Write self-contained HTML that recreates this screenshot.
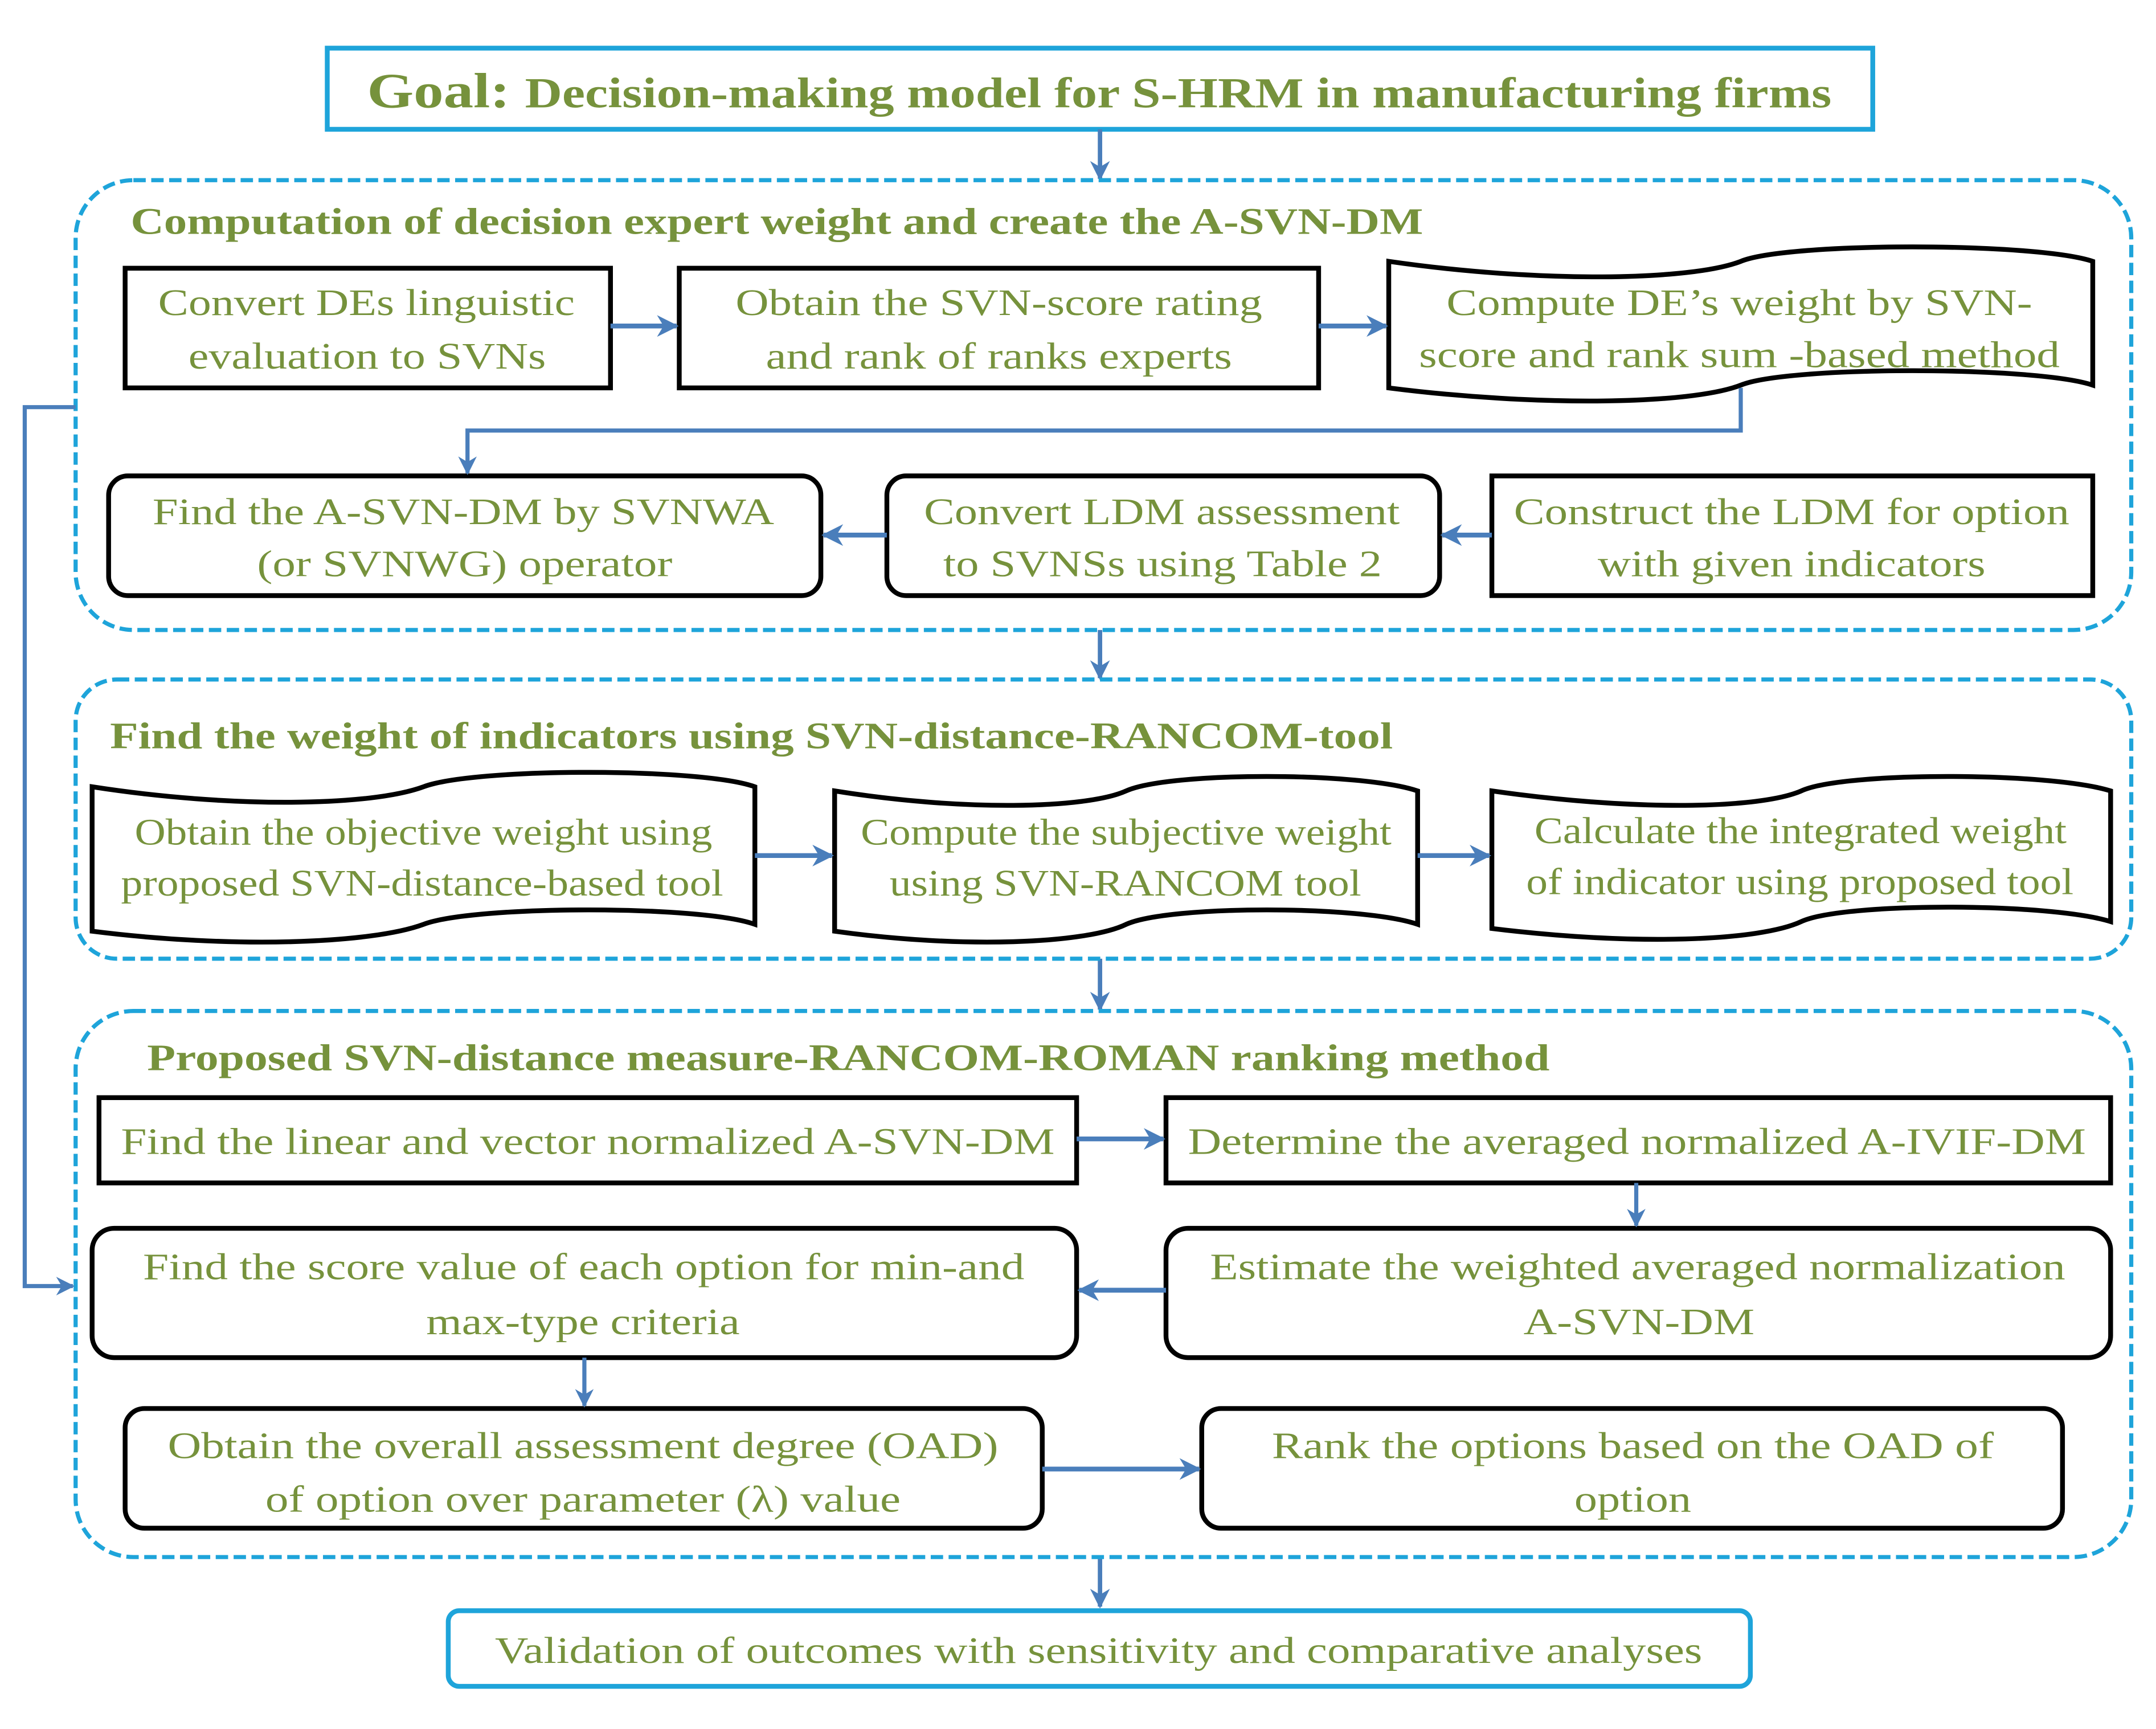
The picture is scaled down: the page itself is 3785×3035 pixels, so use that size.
<!DOCTYPE html>
<html><head><meta charset="utf-8"><style>
html,body{margin:0;padding:0;background:#fff;}
svg{display:block;}
text{font-family:"Liberation Serif","Times New Roman",serif;fill:#76923c;}
.t{font-size:27px;}
.b{font-size:27px;font-weight:bold;}
</style></head><body>
<svg width="3785" height="3035" viewBox="0 0 1568 1257" preserveAspectRatio="none" xmlns="http://www.w3.org/2000/svg">
<defs>
<marker id="ar" viewBox="0 0 10 10" refX="9" refY="5" markerWidth="4.5" markerHeight="4.5" orient="auto" markerUnits="strokeWidth"><path d="M0,0 L10,5 L0,10 L3,5 Z" fill="#4a7ebb"/></marker>
</defs>
<rect width="1568" height="1257" fill="#fff"/>
<rect x="238" y="35" width="1124" height="59" fill="#fff" stroke="#1ea4da" stroke-width="3.5"/>
<text x="267" y="78" font-size="36" font-weight="bold" textLength="1065" lengthAdjust="spacingAndGlyphs">Goal: <tspan font-size="31">Decision-making model for S-HRM in manufacturing firms</tspan></text>
<g stroke="#4a7ebb" stroke-width="3.2" fill="none" marker-end="url(#ar)">
<line x1="800" y1="94" x2="800" y2="130"/>
<line x1="800" y1="458" x2="800" y2="493"/>
<line x1="800" y1="697" x2="800" y2="734"/>
<line x1="800" y1="1132" x2="800" y2="1168"/>
</g>
<g fill="none" stroke="#1ea4da" stroke-width="3" stroke-dasharray="9,4">
<rect x="55" y="131" width="1495" height="327" rx="42"/>
<rect x="55" y="494" width="1495" height="203" rx="30"/>
<rect x="55" y="735" width="1495" height="397" rx="42"/>
</g>
<text class="b" x="95" y="170" textLength="940" lengthAdjust="spacingAndGlyphs">Computation of decision expert weight and create the A-SVN-DM</text>
<text class="b" x="80" y="544" textLength="933" lengthAdjust="spacingAndGlyphs">Find the weight of indicators using SVN-distance-RANCOM-tool</text>
<text class="b" x="107" y="778" textLength="1020" lengthAdjust="spacingAndGlyphs">Proposed SVN-distance measure-RANCOM-ROMAN  ranking method</text>
<g fill="#fff" stroke="#000" stroke-width="3.5">
<rect x="91" y="195" width="353" height="87"/>
<rect x="494" y="195" width="465" height="87"/>
<path d="M1010,190 C1120,206 1230,204 1266,190 C1300,176 1480,176 1522,190 L1522,280 C1480,266 1300,266 1266,280 C1230,294 1120,296 1010,282 Z"/>
<rect x="79" y="346" width="518" height="87" rx="14"/>
<rect x="645" y="346" width="402" height="87" rx="14"/>
<rect x="1085" y="346" width="437" height="87"/>
<path d="M67,572 C170,588 270,586 308,572 C345,558 510,558 549,572 L549,672 C510,658 345,658 308,672 C270,686 170,690 67,677 Z"/>
<path d="M607,575 C700,590 790,588 819,575 C850,561 990,561 1031,575 L1031,672 C990,658 850,658 819,672 C790,686 700,690 607,677 Z"/>
<path d="M1085,575 C1190,590 1280,588 1310,575 C1340,561 1490,561 1535,575 L1535,670 C1490,656 1340,656 1310,670 C1280,684 1190,688 1085,675 Z"/>
<rect x="72" y="798" width="711" height="62"/>
<rect x="848" y="798" width="687" height="62"/>
<rect x="67" y="893" width="716" height="94" rx="16"/>
<rect x="848" y="893" width="687" height="94" rx="16"/>
<rect x="91" y="1024" width="667" height="87" rx="14"/>
<rect x="874" y="1024" width="626" height="87" rx="14"/>
</g>
<rect x="326" y="1171" width="947" height="55" rx="8" fill="#fff" stroke="#1ea4da" stroke-width="3.5"/>
<g stroke="#4a7ebb" stroke-width="3.5" fill="none" marker-end="url(#ar)">
<line x1="444" y1="237" x2="492" y2="237"/>
<line x1="959" y1="237" x2="1008" y2="237"/>
<line x1="1085" y1="389" x2="1049" y2="389"/>
<line x1="645" y1="389" x2="599" y2="389"/>
<line x1="549" y1="622" x2="605" y2="622"/>
<line x1="1031" y1="622" x2="1083" y2="622"/>
<line x1="783" y1="828" x2="846" y2="828"/>
<line x1="848" y1="938" x2="785" y2="938"/>
<line x1="758" y1="1068" x2="872" y2="1068"/>
</g>
<g stroke="#4a7ebb" stroke-width="3" fill="none" marker-end="url(#ar)">
<polyline points="1266,282 1266,313 340,313 340,344"/>
<line x1="1190" y1="860" x2="1190" y2="891"/>
<line x1="425" y1="987" x2="425" y2="1022"/>
<polyline points="55,296 18,296 18,935 53,935"/>
</g>
<g class="t">
<text class="t" x="115" y="229" textLength="303" lengthAdjust="spacingAndGlyphs">Convert DEs linguistic</text>
<text class="t" x="137" y="268" textLength="260" lengthAdjust="spacingAndGlyphs">evaluation to SVNs</text>
<text class="t" x="535" y="229" textLength="383" lengthAdjust="spacingAndGlyphs">Obtain the SVN-score rating</text>
<text class="t" x="557" y="268" textLength="339" lengthAdjust="spacingAndGlyphs">and rank of ranks experts</text>
<text class="t" x="1052" y="229" textLength="426" lengthAdjust="spacingAndGlyphs">Compute DE’s weight by SVN-</text>
<text class="t" x="1032" y="267" textLength="466" lengthAdjust="spacingAndGlyphs">score and rank sum -based method</text>
<text class="t" x="111" y="381" textLength="452" lengthAdjust="spacingAndGlyphs">Find the A-SVN-DM by SVNWA</text>
<text class="t" x="187" y="419" textLength="302" lengthAdjust="spacingAndGlyphs">(or SVNWG) operator</text>
<text class="t" x="672" y="381" textLength="346" lengthAdjust="spacingAndGlyphs">Convert LDM assessment</text>
<text class="t" x="686" y="419" textLength="319" lengthAdjust="spacingAndGlyphs">to SVNSs using Table 2</text>
<text class="t" x="1101" y="381" textLength="404" lengthAdjust="spacingAndGlyphs">Construct the LDM for option</text>
<text class="t" x="1162" y="419" textLength="282" lengthAdjust="spacingAndGlyphs">with given indicators</text>
<text class="t" x="98" y="614" textLength="420" lengthAdjust="spacingAndGlyphs">Obtain the objective weight using</text>
<text class="t" x="88" y="651" textLength="438" lengthAdjust="spacingAndGlyphs">proposed SVN-distance-based tool</text>
<text class="t" x="626" y="614" textLength="386" lengthAdjust="spacingAndGlyphs">Compute the subjective weight</text>
<text class="t" x="647" y="651" textLength="343" lengthAdjust="spacingAndGlyphs">using SVN-RANCOM tool</text>
<text class="t" x="1116" y="613" textLength="387" lengthAdjust="spacingAndGlyphs">Calculate the integrated weight</text>
<text class="t" x="1110" y="650" textLength="398" lengthAdjust="spacingAndGlyphs">of indicator using proposed tool</text>
<text class="t" x="88" y="839" textLength="679" lengthAdjust="spacingAndGlyphs">Find the linear and vector normalized A-SVN-DM</text>
<text class="t" x="864" y="839" textLength="653" lengthAdjust="spacingAndGlyphs">Determine the averaged normalized A-IVIF-DM</text>
<text class="t" x="104" y="930" textLength="641" lengthAdjust="spacingAndGlyphs">Find the score value of each option for min-and</text>
<text class="t" x="310" y="970" textLength="228" lengthAdjust="spacingAndGlyphs">max-type criteria</text>
<text class="t" x="880" y="930" textLength="622" lengthAdjust="spacingAndGlyphs">Estimate the weighted averaged normalization</text>
<text class="t" x="1108" y="970" textLength="168" lengthAdjust="spacingAndGlyphs">A-SVN-DM</text>
<text class="t" x="122" y="1060" textLength="604" lengthAdjust="spacingAndGlyphs">Obtain the overall assessment degree (OAD)</text>
<text class="t" x="193" y="1099" textLength="462" lengthAdjust="spacingAndGlyphs">of option over parameter (λ) value</text>
<text class="t" x="925" y="1060" textLength="525" lengthAdjust="spacingAndGlyphs">Rank the options based on the OAD of</text>
<text class="t" x="1145" y="1099" textLength="85" lengthAdjust="spacingAndGlyphs">option</text>
<text class="t" x="360" y="1209" textLength="878" lengthAdjust="spacingAndGlyphs">Validation of outcomes with sensitivity and comparative analyses</text>
</g>
</svg>
</body></html>
